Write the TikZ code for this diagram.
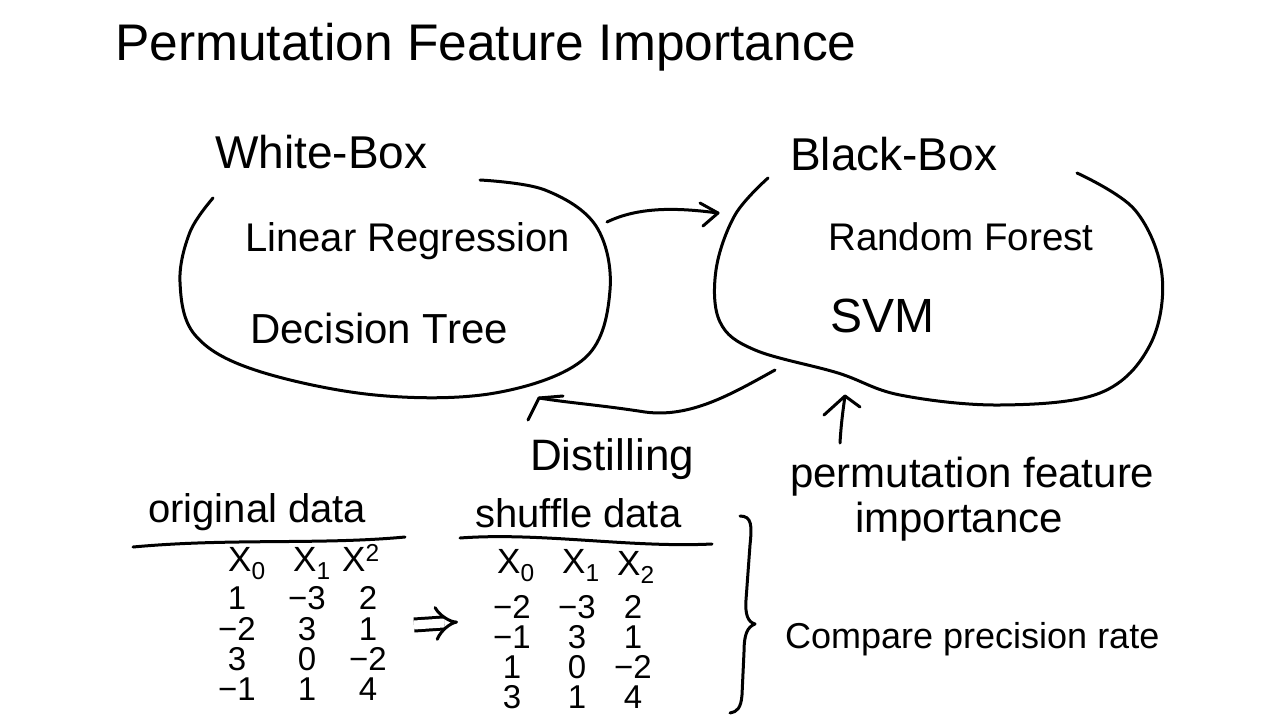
\documentclass[tikz,border=0pt]{standalone}
\usepackage{fontspec}
\setmainfont{Liberation Sans}
\usetikzlibrary{arrows.meta}
\begin{document}
\begin{tikzpicture}[x=1pt,y=-1pt,
  pen/.style={line width=3pt, line cap=round, line join=round},
  lbl/.style={inner sep=0pt, anchor=base west},
  num/.style={inner sep=0pt, anchor=base, font=\fontsize{33}{38}\selectfont},
  hdr/.style={inner sep=0pt, anchor=base west, font=\fontsize{35}{40}\selectfont}]
\useasboundingbox[fill=white] (0,0) rectangle (1280,720);

% titles and labels
\node[lbl, font=\fontsize{51.5}{60}\selectfont] (title) at (115,60) {Permutation Feature Importance};
\node[lbl, font=\fontsize{46}{54}\selectfont] (white) at (215,168) {White-Box};
\node[lbl, font=\fontsize{46}{54}\selectfont] (black) at (790,170) {Black-Box};
\node[lbl, font=\fontsize{40}{48}\selectfont] (linreg) at (245,251) {Linear Regression};
\node[lbl, font=\fontsize{42}{50}\selectfont] (dtree) at (250,343) {Decision Tree};
\node[lbl, font=\fontsize{38.5}{46}\selectfont] (rforest) at (828,250) {Random Forest};
\node[lbl, font=\fontsize{48}{54}\selectfont] (svm) at (830,332) {SVM};
\node[lbl, font=\fontsize{44}{52}\selectfont] (distill) at (530,470) {Distilling};
\node[lbl, font=\fontsize{42}{50}\selectfont] (pfi1) at (790,487) {permutation feature};
\node[lbl, font=\fontsize{42}{50}\selectfont] (pfi2) at (855,532) {importance};
\node[lbl, font=\fontsize{40}{48}\selectfont] (orig) at (148,522) {original data};
\node[lbl, font=\fontsize{40}{48}\selectfont] (shuf) at (475,527) {shuffle data};
\node[lbl, font=\fontsize{36}{44}\selectfont] (cmp) at (785,648) {Compare precision rate};

% white-box loop
\draw[pen] plot[smooth, tension=0.6] coordinates {(213,198) (190,232) (180,282) (195,335) (255,370) (375,395) (495,393) (585,358) (610,290) (596,226) (545,190) (480,180)};
% black-box loop
\draw[pen] plot[smooth, tension=0.6] coordinates {(768,178) (735,215) (716,270) (720,322) (755,350) (838,373) (900,395) (1000,405) (1100,393) (1150,345) (1162,275) (1135,210) (1077,173)};

% arrow white -> black
\coordinate (a1) at (607,222);
\coordinate (a2) at (718,213);
\draw[pen] (a1) .. controls (640,206) and (680,208) .. (a2);
\draw[pen] (700,203) -- (a2) -- (703,226);

% distilling arrow
\coordinate (d1) at (775,370);
\coordinate (dtip) at (539,398);
\draw[pen] (d1) .. controls (730,395) and (690,418) .. (645,412) .. controls (600,405) and (570,403) .. (dtip);
\draw[pen] (563,396) -- (dtip) -- (528,420);

% permutation importance arrow
\coordinate (u1) at (840,443);
\coordinate (u2) at (845,396);
\draw[pen] (u1) .. controls (841,425) and (843,410) .. (u2);
\draw[pen] (824,415) -- (u2) -- (860,407);

% underlines
\coordinate (ol1) at (133,547);
\coordinate (ol2) at (405,537);
\draw[pen] (ol1) .. controls (230,538) and (320,545) .. (ol2);
\coordinate (sl1) at (460,538);
\coordinate (sl2) at (712,544);
\draw[pen] (sl1) .. controls (540,532) and (630,548) .. (sl2);

% headers
\node[hdr] (oh0) at (228,571) {X\textsubscript{0}};
\node[hdr] (oh1) at (293,571) {X\textsubscript{1}};
\node[hdr] (oh2) at (342,571) {X\textsuperscript{2}};
\node[hdr] (sh0) at (497,573) {X\textsubscript{0}};
\node[hdr] (sh1) at (562,573) {X\textsubscript{1}};
\node[hdr] (sh2) at (617,575) {X\textsubscript{2}};

% original data
\foreach \a/\b/\c/\y [count=\r] in {1/−3/2/609, −2/3/1/640, 3/0/−2/670, −1/1/4/700}{
  \node[num] (o\r a) at (237,\y) {\a};
  \node[num] (o\r b) at (307,\y) {\b};
  \node[num] (o\r c) at (368,\y) {\c};
}
% shuffle data
\foreach \a/\b/\c/\y [count=\r] in {−2/−3/2/618, −1/3/1/648, 1/0/−2/678, 3/1/4/708}{
  \node[num] (s\r a) at (512,\y) {\a};
  \node[num] (s\r b) at (577,\y) {\b};
  \node[num] (s\r c) at (633,\y) {\c};
}

% implies arrow
\coordinate (i1) at (414,625);
\coordinate (i2) at (458,622);
\draw[line width=3pt, double distance=9pt, -{Implies}] (i1) -- (i2);

% brace
\coordinate (b1) at (740,516);
\coordinate (bm) at (755,624);
\coordinate (b2) at (730,713);
\draw[pen] (b1) .. controls (752,516) and (752,526) .. (750,545) -- (746,600) .. controls (745,615) and (748,622) .. (bm)
  .. controls (747,627) and (744,635) .. (744,652) -- (742,695) .. controls (741,708) and (737,712) .. (b2);
\end{tikzpicture}
\end{document}
